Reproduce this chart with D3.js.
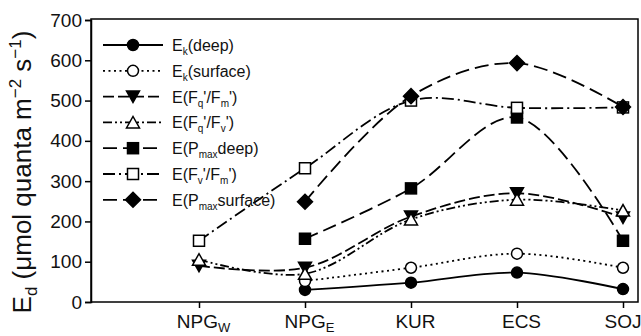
<!DOCTYPE html>
<html><head><meta charset="utf-8">
<script src="https://cdn.jsdelivr.net/npm/d3@7"></script>
<style>body{margin:0;background:#fff}svg{display:block;font-family:"Liberation Sans",Arial,sans-serif}</style>
</head><body><svg id="c" width="641" height="336"></svg>
<script>
const categories = ["NPGW","NPGE","KUR","ECS","SOJ"];
const catLabels = [["NPG","W"],["NPG","E"],["KUR",""],["ECS",""],["SOJ",""]];
const yTicks = [0,100,200,300,400,500,600,700];
const ekDeep     = [null, 30, 48, 73, 32];
const ekSurface  = [null, 52, 85, 120, 85];
const eFqFm      = [90, 85, 212, 270, 210];
const eFqFv      = [105, 70, 205, 254, 227];
const ePmaxDeep  = [null, 157, 282, 458, 152];
const eFvFm      = [152, 332, 500, 482, 483];
const ePmaxSurf  = [null, 249, 511, 593, 484];

const series = [
  {name:[["E",""],["k","sub"],["(deep)",""]], values:ekDeep, marker:"circle", fill:"#000", dash:null},
  {name:[["E",""],["k","sub"],["(surface)",""]], values:ekSurface, marker:"circle", fill:"#fff", dash:"2,3.5"},
  {name:[["E(F",""],["q","sub"],["'/F",""],["m","sub"],["')",""]], values:eFqFm, marker:"triDown", fill:"#000", dash:"11,4"},
  {name:[["E(F",""],["q","sub"],["'/F",""],["v","sub"],["')",""]], values:eFqFv, marker:"triUp", fill:"#fff", dash:"9,3,2,3,2,3"},
  {name:[["E(P",""],["max","sub"],["deep)",""]], values:ePmaxDeep, marker:"square", fill:"#000", dash:"14,6"},
  {name:[["E(F",""],["v","sub"],["'/F",""],["m","sub"],["')",""]], values:eFvFm, marker:"square", fill:"#fff", dash:"12,4,2,4"},
  {name:[["E(P",""],["max","sub"],["surface)",""]], values:ePmaxSurf, marker:"diamond", fill:"#000", dash:"14,6"}
];

const svg = d3.select("#c");
const L=91, R=638, T=19, B=302;
const x = d3.scalePoint().domain(categories).range([199,623]);
const y = d3.scaleLinear().domain([0,700]).range([B,T+1]);

// frame
svg.append("rect").attr("x",L).attr("y",T).attr("width",R-L).attr("height",B-T)
  .attr("fill","none").attr("stroke","#000").attr("stroke-width",1.5);

// y axis
const ya = svg.append("g").attr("transform",`translate(${L},0)`)
  .call(d3.axisLeft(y).tickValues(yTicks).tickSize(6).tickPadding(3));
ya.select(".domain").attr("stroke-width",1.5);
ya.selectAll("line").attr("stroke-width",1.5);
ya.selectAll("text").attr("font-size",19).attr("font-family","Liberation Sans, Arial, sans-serif").attr("fill","#111");

// x axis
const xa = svg.append("g").attr("transform",`translate(0,${B})`)
  .call(d3.axisBottom(x).tickSize(6).tickPadding(6).tickFormat(""));
xa.select(".domain").remove();
xa.selectAll("line").attr("stroke-width",1.5);
xa.selectAll(".tick").each(function(d,i){
  const last = i===categories.length-1;
  const t = d3.select(this).append("text").attr("y",26)
    .attr("text-anchor", last ? "end" : "middle").attr("x", last ? 18 : 4)
    .attr("font-size",19).attr("fill","#111");
  t.append("tspan").text(catLabels[i][0]);
  if(catLabels[i][1]) t.append("tspan").attr("dy",4).attr("font-size",13).text(catLabels[i][1]);
});

// y label
const yl = svg.append("text").attr("transform","translate(31,172) rotate(-90)")
  .attr("text-anchor","middle").attr("font-size",26).attr("fill","#111");
yl.append("tspan").text("E");
yl.append("tspan").attr("dy",6).attr("font-size",17).text("d");
yl.append("tspan").attr("dy",-6).text(" (μmol quanta m");
yl.append("tspan").attr("dy",-10).attr("font-size",17).text("−2");
yl.append("tspan").attr("dy",10).text(" s");
yl.append("tspan").attr("dy",-10).attr("font-size",17).text("−1");
yl.append("tspan").attr("dy",10).text(")");

function drawMarker(g, type, fill, cx, cy){
  const s = 1.5;
  if(type==="circle") g.append("circle").attr("cx",cx).attr("cy",cy).attr("r",5.5);
  else if(type==="square") g.append("rect").attr("x",cx-5.5).attr("y",cy-5.5).attr("width",11).attr("height",11);
  else if(type==="diamond") g.append("path").attr("d",`M${cx},${cy-7.5}L${cx+7.5},${cy}L${cx},${cy+7.5}L${cx-7.5},${cy}Z`);
  else if(type==="triDown") g.append("path").attr("d",`M${cx-6.5},${cy-5.5}L${cx+6.5},${cy-5.5}L${cx},${cy+6}Z`);
  else if(type==="triUp") g.append("path").attr("d",`M${cx-6.5},${cy+5.5}L${cx+6.5},${cy+5.5}L${cx},${cy-6}Z`);
  g.selectAll(":last-child").attr("fill",fill).attr("stroke","#000").attr("stroke-width",s);
}

const line = d3.line().defined(d=>d.v!=null).x(d=>x(d.c)).y(d=>y(d.v)).curve(d3.curveCatmullRom.alpha(0.5));
series.forEach(s=>{
  const pts = categories.map((c,i)=>({c, v:s.values[i]})).filter(d=>d.v!=null);
  svg.append("path").datum(pts).attr("d",line).attr("fill","none").attr("stroke","#000")
    .attr("stroke-width",1.8).attr("stroke-dasharray",s.dash);
  const g = svg.append("g");
  pts.forEach(p=>drawMarker(g,s.marker,s.fill,x(p.c),y(p.v)));
});

// legend
const lg = svg.append("g");
series.forEach((s,i)=>{
  const cy = 45 + i*25.8;
  lg.append("line").attr("x1",103).attr("x2",163).attr("y1",cy).attr("y2",cy)
    .attr("stroke","#000").attr("stroke-width",1.8).attr("stroke-dasharray",s.dash);
  const g = lg.append("g");
  drawMarker(g,s.marker,s.fill,133,cy);
  const t = lg.append("text").attr("x",172).attr("y",cy+6).attr("font-size",16).attr("fill","#111");
  let shift = 0;
  s.name.forEach(([txt,kind])=>{
    if(kind==="sub"){ t.append("tspan").attr("dy",4-shift).attr("font-size",10).text(txt); shift=4; }
    else { t.append("tspan").attr("dy",-shift).text(txt); shift=0; }
  });
});
</script></body></html>
